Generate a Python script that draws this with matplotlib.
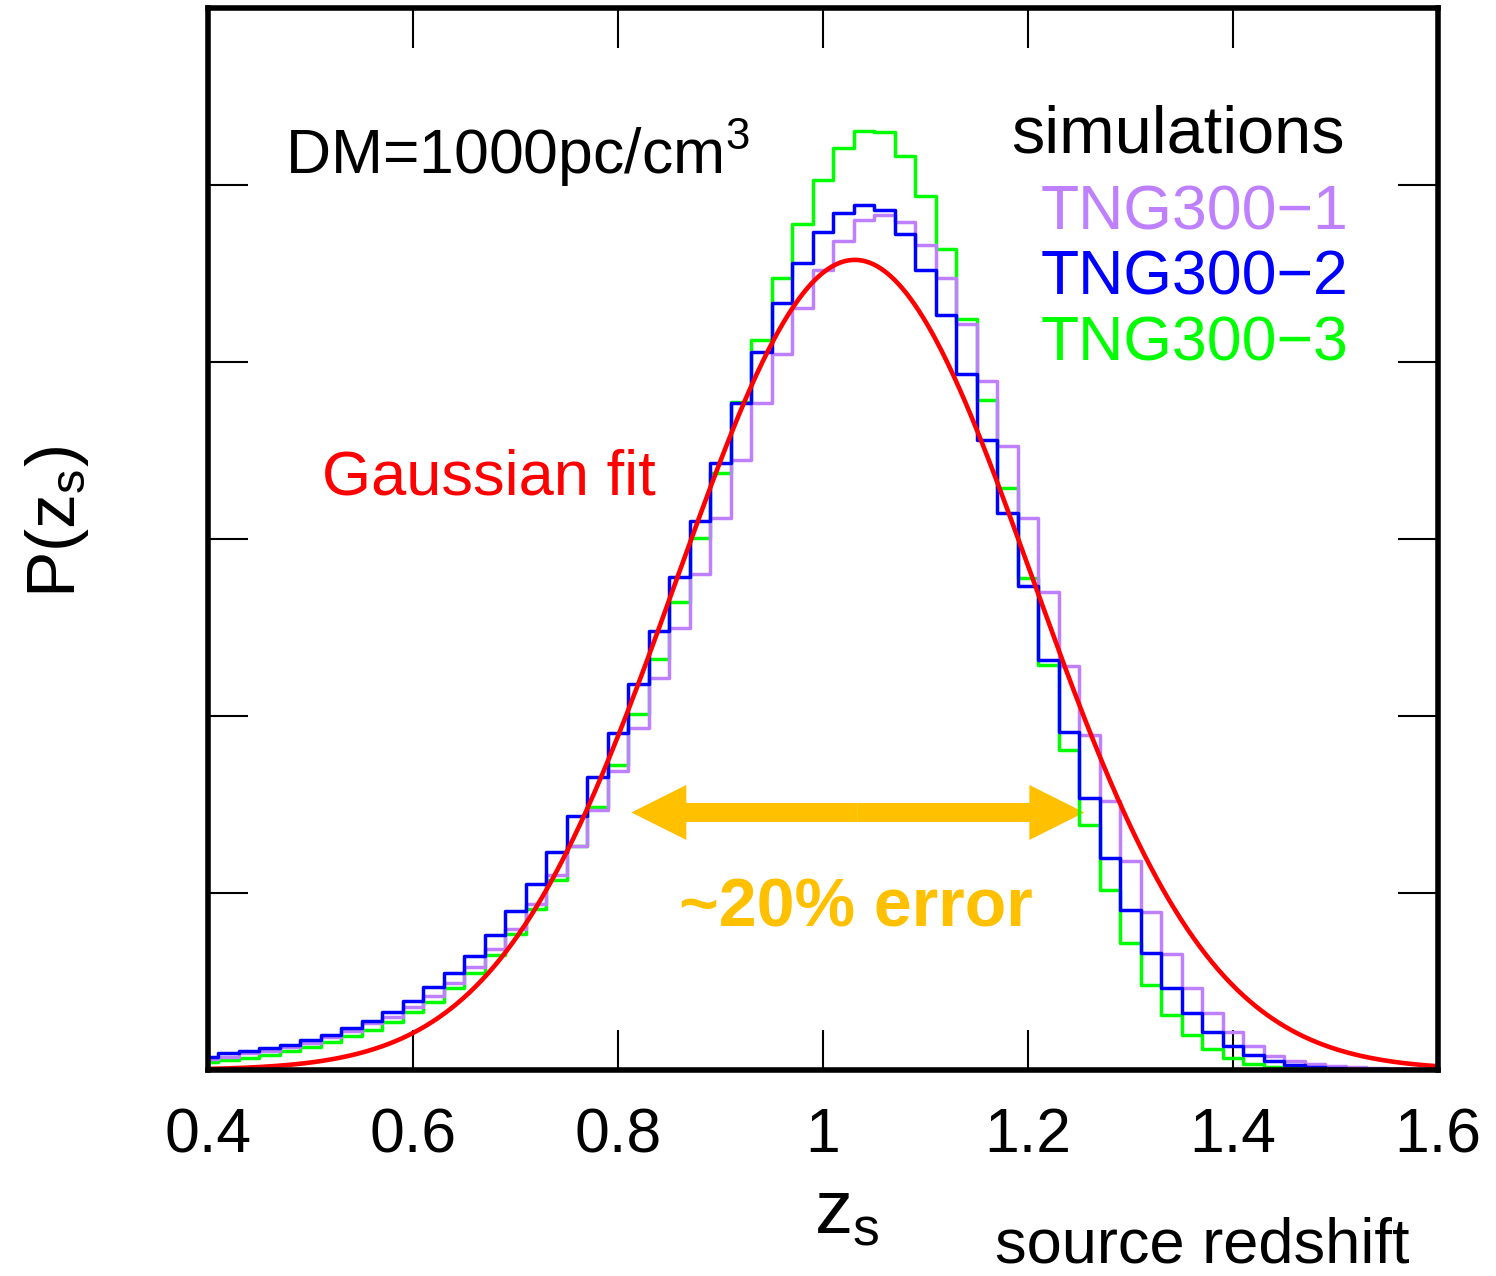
import numpy as np
import matplotlib
matplotlib.use("Agg")
import matplotlib.pyplot as plt
from matplotlib.patches import FancyArrow

plt.rcParams['font.family'] = ['Liberation Sans', 'DejaVu Sans']
plt.rcParams['mathtext.fontset'] = 'custom'
plt.rcParams['mathtext.rm'] = 'Liberation Sans'
plt.rcParams['mathtext.it'] = 'Liberation Sans'
plt.rcParams['mathtext.default'] = 'rm'

### histogram values, bin centres at 0.40, 0.42, ... 1.60
z_centres = np.round(np.arange(0.40, 1.6001, 0.02), 2)

tng300_1 = [0.060, 0.075, 0.094, 0.109, 0.128, 0.154, 0.185, 0.219, 0.264, 0.302,
            0.358, 0.420, 0.493, 0.581, 0.686, 0.796, 0.939, 1.103, 1.267, 1.471,
            1.691, 1.933, 2.216, 2.498, 2.800, 3.117, 3.444, 3.767, 4.044, 4.303,
            4.521, 4.685, 4.800, 4.832, 4.789, 4.662, 4.472, 4.213, 3.890, 3.525,
            3.120, 2.700, 2.285, 1.890, 1.518, 1.182, 0.890, 0.654, 0.462, 0.324,
            0.217, 0.137, 0.079, 0.051, 0.032, 0.023, 0.015, 0.010, 0.006, 0.004,
            0.003]

tng300_2 = [0.075, 0.094, 0.109, 0.124, 0.143, 0.170, 0.200, 0.238, 0.279, 0.328,
            0.389, 0.468, 0.550, 0.646, 0.761, 0.899, 1.052, 1.231, 1.433, 1.656,
            1.905, 2.178, 2.479, 2.785, 3.101, 3.431, 3.767, 4.059, 4.334, 4.562,
            4.732, 4.840, 4.887, 4.858, 4.723, 4.521, 4.266, 3.931, 3.559, 3.149,
            2.734, 2.315, 1.908, 1.535, 1.198, 0.905, 0.660, 0.466, 0.324, 0.217,
            0.137, 0.085, 0.051, 0.030, 0.018, 0.011, 0.007, 0.005, 0.003, 0.002,
            0.001]

tng300_3 = [0.043, 0.057, 0.070, 0.085, 0.107, 0.128, 0.158, 0.192, 0.226, 0.273,
            0.326, 0.386, 0.461, 0.546, 0.649, 0.769, 0.909, 1.075, 1.263, 1.486,
            1.725, 2.009, 2.320, 2.646, 3.007, 3.371, 3.774, 4.127, 4.474, 4.779,
            5.030, 5.207, 5.304, 5.298, 5.162, 4.936, 4.638, 4.242, 3.784, 3.290,
            2.781, 2.287, 1.810, 1.386, 1.018, 0.717, 0.481, 0.311, 0.198, 0.119,
            0.066, 0.034, 0.019, 0.010, 0.006, 0.004, 0.002, 0.001, 0.001, 0.0,
            0.0]

# gaussian fit parameters
fit_mu = 1.031
fit_sigma = 0.1735
fit_amp = 4.577

# the arrow marking the spread
arrow_left = 0.813
arrow_right = 1.255
arrow_y = 1.455

xticks = [0.4, 0.6, 0.8, 1.0, 1.2, 1.4, 1.6]
xtick_labels = ['0.4', '0.6', '0.8', '1', '1.2', '1.4', '1.6']
yticks = [0, 1, 2, 3, 4, 5, 6]

c_lav = '#BF80FF'
c_blue = '#0000FF'
c_green = '#00FF00'
c_red = '#FF0000'
c_orange = '#FFC000'

W, H = 1496, 1276
fig = plt.figure(figsize=(W/100, H/100), dpi=100)
ax = fig.add_axes([208/W, 1-1070/H, (1438-208)/W, (1070-8)/H])

ax.step(z_centres, tng300_3, where='mid', color=c_green, lw=2.5)
ax.step(z_centres, tng300_1, where='mid', color=c_lav, lw=2.5)
ax.step(z_centres, tng300_2, where='mid', color=c_blue, lw=2.5)

zz = np.linspace(0.4, 1.6, 600)
ax.plot(zz, fit_amp*np.exp(-(zz-fit_mu)**2/(2*fit_sigma**2)), color=c_red, lw=3.3)

# double headed arrow, two halves from the middle
mid = 0.5*(arrow_left + arrow_right)
for end in (arrow_left, arrow_right):
    ax.add_patch(FancyArrow(mid, arrow_y, end-mid, 0, width=19/177, head_width=55/177,
                            head_length=55/1025, length_includes_head=True,
                            color=c_orange, lw=0))

ax.set_xlim(0.4, 1.6)
ax.set_ylim(0, 6)
ax.set_xticks(xticks)
ax.set_xticklabels(xtick_labels)
ax.set_yticks(yticks)
ax.set_yticklabels([])
ax.tick_params(direction='in', length=29, width=1.5, top=True, right=True,
               labelsize=45, pad=26)
for s in ax.spines.values():
    s.set_linewidth(4)

ax.text(0.4748, 5.062, 'DM=1000pc/cm$^{3}$', fontsize=45, ha='left', va='baseline')
ax.text(1.509, 5.185, 'simulations', fontsize=48, ha='right', va='baseline')
ax.text(1.2125, 4.750, 'TNG300\u22121', fontsize=45, color=c_lav, ha='left', va='baseline')
ax.text(1.2125, 4.379, 'TNG300\u22122', fontsize=45, color=c_blue, ha='left', va='baseline')
ax.text(1.2125, 4.007, 'TNG300\u22123', fontsize=45, color=c_green, ha='left', va='baseline')
ax.text(0.511, 3.249, 'Gaussian fit', fontsize=45.5, color=c_red, ha='left', va='baseline')
ax.text(1.0325, 0.810, '~20% error', fontsize=49, color=c_orange, fontweight='bold',
        ha='center', va='baseline')

ax.text(0.991, -0.921, 'z$_\\mathregular{s}$', fontsize=55, ha='left', va='baseline', clip_on=False)
ax.text(1.1675, -1.085, 'source redshift', fontsize=45.5, ha='left', va='baseline', clip_on=False)
fig.text(57/W, 1-522/H, 'P(z$_\\mathregular{s}$)', fontsize=50, rotation=90,
         ha='center', va='center')

fig.savefig('out.png', dpi=100)
